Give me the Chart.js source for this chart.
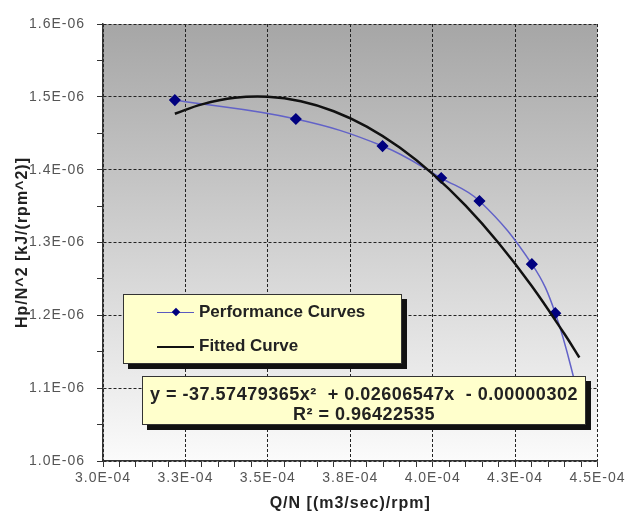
<!DOCTYPE html>
<html>
<head>
<meta charset="utf-8">
<script src="https://cdn.jsdelivr.net/npm/chart.js@4"></script>
<style>
  html, body { margin: 0; padding: 0; background: #ffffff; }
  #wrap { position: relative; width: 625px; height: 518px; }
  #c { position: absolute; left: 0; top: 0; }
  .box { position: absolute; background: #ffffcc; border: 1px solid #333; box-shadow: 5px 5px 0 #111; box-sizing: border-box; }
  #legend { left: 123px; top: 294px; width: 279px; height: 70px; }
  .lg-line { position: absolute; left: 33px; width: 37px; }
  .lg-text { position: absolute; left: 75px; font: bold 17px "Liberation Sans", Arial, sans-serif; color: #222; line-height: 20px; white-space: nowrap; }
  #diam { position: absolute; left: 49px; width: 6px; height: 6px; background: #00007f; transform: rotate(45deg); }
  #eq { left: 142px; top: 376px; width: 444px; height: 49px; text-align: center; font: bold 18px "Liberation Sans", Arial, sans-serif; letter-spacing: 0.5px; color: #222; line-height: 20px; padding-top: 7px; white-space: nowrap; }
</style>
</head>
<body>
<div id="wrap">
  <canvas id="c" width="625" height="518" style="width:625px;height:518px"></canvas>
  <div id="legend" class="box">
    <div class="lg-line" style="top:17px;height:0;border-top:1.5px solid #5a5ac0;"></div>
    <div id="diam" style="top:14px;"></div>
    <div class="lg-text" style="top:7px;">Performance Curves</div>
    <div class="lg-line" style="top:51px;height:0;border-top:2.5px solid #111;"></div>
    <div class="lg-text" style="top:41px;">Fitted Curve</div>
  </div>
  <div id="eq" class="box">y = -37.57479365x²&nbsp; + 0.02606547x&nbsp; - 0.00000302<br>R² = 0.96422535</div>
</div>
<script>
// ---- data ----
const xTickLabels = ['3.0E-04', '3.3E-04', '3.5E-04', '3.8E-04', '4.0E-04', '4.3E-04', '4.5E-04'];
const yTickLabels = ['1.0E-06', '1.1E-06', '1.2E-06', '1.3E-06', '1.4E-06', '1.5E-06', '1.6E-06'];
const xMin = 3.0e-4, xMax = 4.5e-4;
const yMin = 1.0e-6, yMax = 1.6e-6;

const perfQ = [3.218e-4, 3.585e-4, 3.848e-4, 4.026e-4, 4.142e-4, 4.301e-4, 4.372e-4, 4.445e-4];
const perfH = [1.4955e-6, 1.4695e-6, 1.4324e-6, 1.3885e-6, 1.3570e-6, 1.2703e-6, 1.2030e-6, 1.0850e-6];

const fitQ = [3.218e-4, 3.3e-4, 3.4e-4, 3.5e-4, 3.6e-4, 3.7e-4, 3.8e-4, 3.9e-4, 4.0e-4, 4.1e-4, 4.2e-4, 4.3e-4, 4.4e-4, 4.445e-4];
const fitH = [1.4768e-6, 1.4897e-6, 1.4986e-6, 1.5000e-6, 1.4939e-6, 1.4802e-6, 1.4591e-6, 1.4304e-6, 1.3942e-6, 1.3505e-6, 1.2993e-6, 1.2406e-6, 1.1743e-6, 1.1421e-6];

const xMinorPerMajor = 5, xMajors = xTickLabels.length - 1;
const yMinorPerMajor = 2, yMajors = yTickLabels.length - 1;

const perfPts = perfQ.map((q, i) => ({ x: q, y: perfH[i] }));
const fitPts = fitQ.map((q, i) => ({ x: q, y: fitH[i] }));

const bgPlugin = {
  id: 'plotBg',
  beforeDraw(chart) {
    const { ctx, chartArea: a } = chart;
    ctx.letterSpacing = '1px';
    ctx.save();
    const g = ctx.createLinearGradient(0, a.top, 0, a.bottom);
    g.addColorStop(0, '#a6a6a6');
    g.addColorStop(1, '#fbfbfb');
    ctx.fillStyle = g;
    ctx.fillRect(a.left, a.top, a.right - a.left, a.bottom - a.top);
    ctx.restore();
  }
};

const tickFont = { family: '"Liberation Sans", Arial, sans-serif', size: 14 };
const titleFont = { family: '"Liberation Sans", Arial, sans-serif', size: 16, weight: 'bold' };

new Chart(document.getElementById('c'), {
  type: 'scatter',
  data: {
    datasets: [
      {
        label: 'Fitted Curve',
        data: fitPts,
        showLine: true,
        borderColor: '#111111',
        borderWidth: 2.5,
        pointRadius: 0,
        tension: 0.4,
        order: 0
      },
      {
        label: 'Performance Curves',
        data: perfPts,
        showLine: true,
        borderColor: '#6262c8',
        borderWidth: 1.5,
        pointStyle: 'rectRot',
        pointRadius: 5,
        pointBackgroundColor: '#00007f',
        pointBorderColor: '#00007f',
        tension: 0.4,
        order: 1
      }
    ]
  },
  options: {
    responsive: false,
    animation: false,
    layout: { padding: { top: 24, right: 27, left: 0, bottom: 0 } },
    plugins: { legend: { display: false }, tooltip: { enabled: false } },
    scales: {
      x: {
        type: 'linear',
        min: xMin, max: xMax,
        afterBuildTicks(scale) {
          const n = xMajors * xMinorPerMajor;
          scale.ticks = Array.from({ length: n + 1 }, (_, i) => ({ value: xMin + (xMax - xMin) * i / n }));
        },
        afterFit(scale) { scale.height = 57; },
        ticks: {
          autoSkip: false, maxRotation: 0, minRotation: 0,
          padding: 3, color: '#555', font: tickFont,
          callback: (v, i) => (i % xMinorPerMajor === 0 ? xTickLabels[i / xMinorPerMajor] : '')
        },
        grid: {
          color: (c) => (c.index % xMinorPerMajor === 0 ? '#222' : 'rgba(0,0,0,0)'),
          lineWidth: 1,
          tickColor: '#333',
          tickLength: 6
        },
        border: { display: true, color: '#333', width: 1.5, dash: [3, 2] },
        title: { display: true, text: 'Q/N [(m3/sec)/rpm]', color: '#222', font: titleFont, padding: { top: 0, bottom: 5 } }
      },
      y: {
        type: 'linear',
        min: yMin, max: yMax,
        afterBuildTicks(scale) {
          const n = yMajors * yMinorPerMajor;
          scale.ticks = Array.from({ length: n + 1 }, (_, i) => ({ value: yMin + (yMax - yMin) * i / n }));
        },
        afterFit(scale) { scale.width = 103; },
        ticks: {
          autoSkip: false, padding: 12, color: '#555', font: tickFont,
          callback: (v, i) => (i % yMinorPerMajor === 0 ? yTickLabels[i / yMinorPerMajor] : '')
        },
        grid: {
          color: (c) => (c.index % yMinorPerMajor === 0 ? '#222' : 'rgba(0,0,0,0)'),
          lineWidth: 1,
          tickColor: '#333',
          tickLength: 6
        },
        border: { display: true, color: '#333', width: 1.5, dash: [3, 2] },
        title: { display: true, text: 'Hp/N^2 [kJ/(rpm^2)]', color: '#222', font: titleFont, padding: { top: 13, bottom: 0 } }
      }
    }
  },
  plugins: [bgPlugin]
});
</script>
</body>
</html>
